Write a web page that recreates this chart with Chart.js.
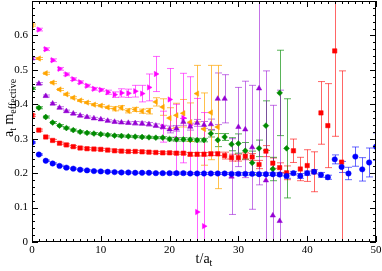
<!DOCTYPE html>
<html>
<head>
<meta charset="utf-8">
<script src="https://cdn.jsdelivr.net/npm/chart.js@4.4.0/dist/chart.umd.min.js"></script>
<style>
    html, body { margin: 0; padding: 0; background: #fff; }
</style>
</head>
<body>
<canvas id="effMass" width="382" height="271"></canvas>
<script>
// effective mass a_t m_eff(t) per channel, t starts at 0 (magenta at 1)
const blueM = [0.289, 0.254, 0.236, 0.228, 0.221, 0.216, 0.213, 0.210, 0.208, 0.206,
               0.205, 0.204, 0.203, 0.202, 0.202, 0.201, 0.201, 0.201, 0.200, 0.200,
               0.200, 0.200, 0.200, 0.199, 0.199, 0.199, 0.199, 0.199, 0.199, 0.198,
               0.198, 0.198, 0.198, 0.197, 0.197, 0.197, 0.196, 0.192, 0.200, 0.192,
               0.200, 0.204, 0.195, 0.188, 0.240, 0.218, 0.199, 0.248, 0.211, 0.231,
               0.277];
const blueErr = [0.002, 0.002, 0.002, 0.002, 0.002, 0.002, 0.002, 0.002, 0.002, 0.002,
                 0.002, 0.002, 0.002, 0.002, 0.002, 0.002, 0.002, 0.002, 0.002, 0.002,
                 0.003, 0.003, 0.003, 0.003, 0.003, 0.003, 0.003, 0.003, 0.003, 0.003,
                 0.004, 0.004, 0.004, 0.004, 0.004, 0.004, 0.004, 0.007, 0.005, 0.007,
                 0.006, 0.006, 0.007, 0.006, 0.013, 0.016, 0.018, 0.028, 0.034, 0.042,
                 0.040];

const redM = [0.368, 0.325, 0.305, 0.295, 0.287, 0.282, 0.277, 0.273, 0.271, 0.270,
              0.269, 0.267, 0.265, 0.264, 0.263, 0.263, 0.262, 0.261, 0.260, 0.259,
              0.259, 0.258, 0.258, 0.255, 0.255, 0.255, 0.256, 0.256, 0.251, 0.245,
              0.245, 0.249, 0.247, 0.225, 0.264, 0.229, 0.216, 0.201, 0.265, 0.212,
              0.222, 0.204, 0.375, 0.338, 0.555, 0.232];
const redErr = [0.003, 0.003, 0.003, 0.003, 0.003, 0.003, 0.003, 0.003, 0.003, 0.003,
                0.003, 0.003, 0.003, 0.003, 0.003, 0.003, 0.003, 0.003, 0.003, 0.003,
                0.003, 0.003, 0.003, 0.005, 0.005, 0.005, 0.005, 0.005, 0.010, 0.010,
                0.010, 0.010, 0.010, 0.012, 0.016, 0.015, 0.014, 0.020, 0.034, 0.034,
                0.046, 0.058, 0.091, 0.122, 0.248, 0.265];

const greenM = [0.446, 0.390, 0.363, 0.347, 0.338, 0.331, 0.325, 0.320, 0.317, 0.315,
                0.313, 0.311, 0.309, 0.308, 0.307, 0.306, 0.305, 0.304, 0.303, 0.303,
                0.299, 0.298, 0.298, 0.297, 0.296, 0.296, 0.315, 0.296, 0.305, 0.284,
                0.286, 0.265, 0.230, 0.272, 0.338, 0.212, 0.433, 0.272];
const greenErr = [0.003, 0.003, 0.003, 0.003, 0.003, 0.003, 0.003, 0.003, 0.003, 0.003,
                  0.003, 0.003, 0.003, 0.003, 0.003, 0.003, 0.003, 0.003, 0.003, 0.003,
                  0.005, 0.005, 0.005, 0.005, 0.005, 0.005, 0.010, 0.019, 0.010, 0.019,
                  0.028, 0.024, 0.034, 0.024, 0.072, 0.034, 0.124, 0.144];

const violetM = [0.533, 0.460, 0.424, 0.402, 0.390, 0.380, 0.373, 0.367, 0.363, 0.359,
                 0.356, 0.352, 0.349, 0.347, 0.346, 0.345, 0.344, 0.342, 0.338, 0.334,
                 0.327, 0.330, 0.349, 0.335, 0.346, 0.340, 0.342, 0.416, 0.416, 0.190,
                 0.334, 0.327, 0.275, 0.446, 0.179, 0.077, 0.061];
const violetErr = [0.003, 0.003, 0.003, 0.003, 0.003, 0.003, 0.003, 0.003, 0.003, 0.003,
                   0.003, 0.003, 0.003, 0.003, 0.003, 0.005, 0.005, 0.005, 0.005, 0.005,
                   0.010, 0.008, 0.010, 0.010, 0.010, 0.010, 0.015, 0.075, 0.070, 0.110,
                   0.115, 0.140, 0.180, 0.280, 0.318, 0.320, 0.380];

const orangeM = [0.630, 0.533, 0.490, 0.463, 0.443, 0.429, 0.419, 0.411, 0.405, 0.399,
                 0.396, 0.391, 0.387, 0.390, 0.381, 0.385, 0.380, 0.380, 0.407, 0.392,
                 0.360, 0.368, 0.374, 0.348, 0.431, 0.328, 0.376, 0.334];
const orangeErr = [0.003, 0.003, 0.003, 0.003, 0.003, 0.003, 0.003, 0.003, 0.003, 0.003,
                   0.003, 0.003, 0.006, 0.006, 0.006, 0.006, 0.006, 0.008, 0.012, 0.024,
                   0.030, 0.035, 0.040, 0.056, 0.082, 0.105, 0.137, 0.179];

const magentaM = [0.617, 0.560, 0.528, 0.503, 0.487, 0.473, 0.464, 0.454, 0.445, 0.442,
                  0.435, 0.428, 0.433, 0.432, 0.438, 0.431, 0.449, 0.488, 0.335, 0.414,
                  0.300, 0.360, 0.340, 0.087, 0.046];
const magentaErr = [0.004, 0.004, 0.004, 0.004, 0.004, 0.004, 0.004, 0.004, 0.004, 0.004,
                    0.006, 0.008, 0.012, 0.012, 0.017, 0.024, 0.039, 0.051, 0.045, 0.090,
                    0.100, 0.130, 0.140, 0.330, 0.330];

const xTicks = [0, 10, 20, 30, 40, 50];
const yTicks = [0, 0.1, 0.2, 0.3, 0.4, 0.5, 0.6];

const serif = '"Liberation Serif", "DejaVu Serif", serif';

function series(values, errors, tStart, color, errColor, style, radius, rotation) {
    return {
        data: values.map((v, i) => ({ x: tStart + i, y: v })),
        errors: errors,
        errorColor: errColor,
        showLine: false,
        pointStyle: style,
        pointRadius: radius,
        pointRotation: rotation || 0,
        pointBackgroundColor: color,
        pointBorderColor: color,
        pointBorderWidth: 0.5
    };
}

// vertical error bars with small caps, drawn under the markers
const errorBars = {
    id: 'errorBars',
    beforeDatasetsDraw(chart) {
        const ctx = chart.ctx;
        const a = chart.chartArea;
        const yScale = chart.scales.y;
        ctx.save();
        ctx.beginPath();
        ctx.rect(a.left, a.top, a.right - a.left, a.bottom - a.top);
        ctx.clip();
        ctx.lineWidth = 1;
        chart.data.datasets.forEach((ds, i) => {
            const meta = chart.getDatasetMeta(i);
            ctx.strokeStyle = ds.errorColor;
            meta.data.forEach((pt, j) => {
                const v = ds.data[j].y;
                const e = ds.errors[j];
                const x = Math.round(pt.x) + 0.5;
                const y1 = yScale.getPixelForValue(v + e);
                const y2 = yScale.getPixelForValue(v - e);
                ctx.beginPath();
                ctx.moveTo(x, y1); ctx.lineTo(x, y2);
                ctx.moveTo(x - 3.5, y1); ctx.lineTo(x + 3.5, y1);
                ctx.moveTo(x - 3.5, y2); ctx.lineTo(x + 3.5, y2);
                ctx.stroke();
            });
        });
        ctx.restore();
    }
};

// box frame with inward ticks on all four sides
const frameTicks = {
    id: 'frameTicks',
    afterDraw(chart) {
        const ctx = chart.ctx;
        const a = chart.chartArea;
        const xs = chart.scales.x, ys = chart.scales.y;
        ctx.save();
        ctx.strokeStyle = '#000';
        ctx.lineWidth = 1;
        ctx.beginPath();
        for (let t = 0; t <= 50; t++) {
            const px = Math.round(xs.getPixelForValue(t)) + 0.5;
            const len = t % 10 === 0 ? 6 : 3;
            ctx.moveTo(px, a.bottom); ctx.lineTo(px, a.bottom - len);
            ctx.moveTo(px, a.top); ctx.lineTo(px, a.top + len);
        }
        for (let k = 0; k <= 35; k++) {
            const py = Math.round(ys.getPixelForValue(k * 0.02)) + 0.5;
            const len = k % 5 === 0 ? 6 : 3;
            ctx.moveTo(a.left, py); ctx.lineTo(a.left + len, py);
            ctx.moveTo(a.right, py); ctx.lineTo(a.right - len, py);
        }
        ctx.stroke();
        ctx.strokeRect(a.left + 0.5, a.top + 0.5, a.right - a.left - 1, a.bottom - a.top - 1);
        ctx.restore();
    }
};

// axis titles with subscripts
const axisTitles = {
    id: 'axisTitles',
    afterDraw(chart) {
        const ctx = chart.ctx;
        const a = chart.chartArea;
        ctx.save();
        ctx.fillStyle = '#000';
        ctx.textBaseline = 'alphabetic';

        // x: t/a_t
        const big = '14px ' + serif, small = '10px ' + serif;
        ctx.font = big;
        const w1 = ctx.measureText('t/a').width;
        ctx.font = small;
        const w2 = ctx.measureText('t').width;
        let x0 = (a.left + a.right) / 2 - (w1 + w2) / 2;
        ctx.font = big;
        ctx.fillText('t/a', x0, 263);
        ctx.font = small;
        ctx.fillText('t', x0 + w1, 266);

        // y: a_t m_effective, rotated
        ctx.translate(13, 108);
        ctx.rotate(-Math.PI / 2);
        const parts = [['a', big, 0], ['t', small, 3], [' m', big, 0], ['effective', small, 3]];
        let total = 0;
        parts.forEach(p => { ctx.font = p[1]; total += ctx.measureText(p[0]).width; });
        let cx = -total / 2;
        parts.forEach(p => {
            ctx.font = p[1];
            ctx.fillText(p[0], cx, p[2]);
            cx += ctx.measureText(p[0]).width;
        });
        ctx.restore();
    }
};

new Chart(document.getElementById('effMass'), {
    type: 'scatter',
    data: {
        datasets: [
            series(blueM, blueErr, 0, '#0000ff', 'rgba(0, 0, 255, 0.6)', 'circle', 2.7),
            series(redM, redErr, 0, '#ff0000', 'rgba(255, 0, 0, 0.6)', 'rect', 3.1),
            series(greenM, greenErr, 0, '#008b00', 'rgba(0, 139, 0, 0.65)', 'rectRot', 2.9),
            series(violetM, violetErr, 0, '#9400d3', 'rgba(148, 0, 211, 0.55)', 'triangle', 3.1),
            series(orangeM, orangeErr, 0, '#ffa500', 'rgba(255, 165, 0, 0.7)', 'triangle', 3.1, -90),
            series(magentaM, magentaErr, 1, '#ff00ff', 'rgba(255, 0, 255, 0.6)', 'triangle', 3.1, 90)
        ]
    },
    options: {
        responsive: false,
        animation: false,
        events: [],
        layout: {
            autoPadding: false,
            padding: { top: 1, right: 6, left: 0, bottom: 0 }
        },
        scales: {
            x: {
                type: 'linear',
                min: 0,
                max: 50,
                afterBuildTicks: s => { s.ticks = xTicks.map(v => ({ value: v })); },
                afterFit: s => {
                    s.height = 29;
                    s.paddingLeft = 0;
                    s.paddingRight = 0;
                },
                grid: { display: false, drawTicks: false },
                border: { display: false },
                ticks: {
                    padding: 2,
                    maxRotation: 0,
                    color: '#000',
                    font: { family: serif, size: 11 }
                }
            },
            y: {
                type: 'linear',
                min: 0,
                max: 0.7,
                afterBuildTicks: s => { s.ticks = yTicks.map(v => ({ value: v })); },
                afterFit: s => {
                    s.width = 32;
                    s.paddingTop = 0;
                    s.paddingBottom = 0;
                },
                grid: { display: false, drawTicks: false },
                border: { display: false },
                ticks: {
                    padding: 4,
                    color: '#000',
                    font: { family: serif, size: 11 },
                    callback: v => String(Math.round(v * 10) / 10)
                }
            }
        },
        plugins: {
            legend: { display: false },
            tooltip: { enabled: false }
        }
    },
    plugins: [errorBars, frameTicks, axisTitles]
});
</script>
</body>
</html>
